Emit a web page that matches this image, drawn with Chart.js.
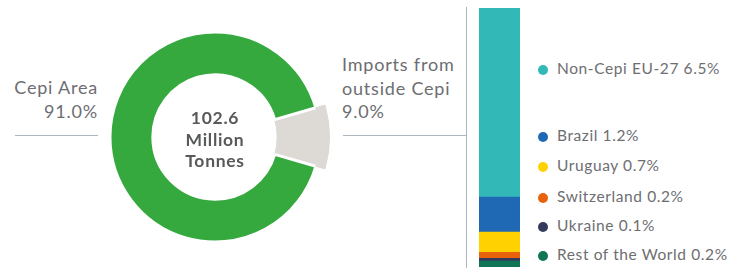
<!DOCTYPE html>
<html>
<head>
<meta charset="utf-8">
<script src="https://cdn.jsdelivr.net/npm/chart.js@4.4.0/dist/chart.umd.min.js"></script>
<style>
  body { margin: 0; background: #fff; font-family: Lato, "Open Sans", sans-serif; color: #6d6e71; }
  #wrap { position: relative; width: 733px; height: 268px; overflow: hidden; }
  .abs { position: absolute; }
  #donutBox { left: 100px; top: 22px; width: 230px; height: 230px; }
  #barBox { left: 479px; top: 8px; width: 41px; height: 259px; }
  .lbl { font-size: 18px; line-height: 23.5px; letter-spacing: 0.8px; }
  #leftLbl { left: 0; width: 98px; top: 76px; text-align: right; }
  #rightLbl { left: 342px; top: 53px; }
  #center { left: 160px; top: 107px; width: 110px; text-align: center; font-weight: bold;
            font-size: 17.5px; line-height: 21.5px; letter-spacing: 0.7px; color: #58595b; }
  .hline { height: 0; border-top: 1px solid #aab7bd; }
  .vline { width: 0; border-left: 1px solid #aab7bd; }
  .leg { left: 538px; font-size: 15.5px; line-height: 20px; letter-spacing: 0.6px; white-space: nowrap; }
  .dot { display: inline-block; width: 10px; height: 10px; border-radius: 50%; margin-right: 9px; vertical-align: -1px; }
</style>
</head>
<body>
<div id="wrap">
  <div id="donutBox" class="abs"><canvas id="donut"></canvas></div>
  <div id="barBox" class="abs"><canvas id="bar"></canvas></div>
  <div id="center" class="abs"></div>
  <div id="leftLbl" class="abs lbl"></div>
  <div id="rightLbl" class="abs lbl"></div>
  <div class="abs hline" style="left:15px;top:135px;width:83px"></div>
  <div class="abs hline" style="left:343px;top:135px;width:124px"></div>
  <div class="abs vline" style="left:466px;top:7px;height:261px"></div>
</div>
<script>
  // share of total consumption
  const shareLabels = ["Cepi Area", "Imports from\noutside Cepi"];
  const shareValues = [91.0, 9.0];
  const shareColors = ["#36a93e", "#ddd9d4"];
  const totalText = ["102.6", "Million", "Tonnes"];

  // imports breakdown (% of total)
  const importLabels = ["Non-Cepi EU-27", "Brazil", "Uruguay", "Switzerland", "Ukraine", "Rest of the World"];
  const importValues = [6.5, 1.2, 0.7, 0.2, 0.1, 0.2];
  const importColors = ["#33b8b8", "#1f69b4", "#ffd100", "#e8620c", "#343a5c", "#107456"];
  const legendTops = [58, 125, 155, 186, 215, 244];

  const pct = (v) => v.toFixed(1) + "%";

  document.getElementById("center").innerHTML = totalText.join("<br>");
  document.getElementById("leftLbl").innerHTML = shareLabels[0] + "<br>" + pct(shareValues[0]);
  document.getElementById("rightLbl").innerHTML = shareLabels[1].replace("\n", "<br>") + "<br>" + pct(shareValues[1]);

  const wrap = document.getElementById("wrap");
  importLabels.forEach((name, i) => {
    const d = document.createElement("div");
    d.className = "abs leg";
    d.style.top = legendTops[i] + "px";
    d.innerHTML = `<span class="dot" style="background:${importColors[i]}"></span>${name} ${pct(importValues[i])}`;
    wrap.appendChild(d);
  });

  // Doughnut: outer thin ring only carries the imports slice, so it sticks out
  const half = (shareValues[1] / 100) * 360 / 2;
  new Chart(document.getElementById("donut"), {
    type: "doughnut",
    data: {
      labels: [shareLabels[1], shareLabels[0]],
      datasets: [
        {
          data: [shareValues[1], shareValues[0]],
          backgroundColor: [shareColors[1], "rgba(0,0,0,0)"],
          borderColor: [shareColors[1], "rgba(0,0,0,0)"],
          borderWidth: [1, 0],
          weight: 9.5,
        },
        {
          data: [shareValues[1], shareValues[0]],
          backgroundColor: [shareColors[1], shareColors[0]],
          borderColor: [shareColors[1], "#ffffff"],
          borderWidth: [1, 3],
          weight: 43,
        },
      ],
    },
    options: {
      responsive: true,
      maintainAspectRatio: false,
      animation: false,
      rotation: 90 - half,
      cutout: "54.3%",
      layout: { padding: 0 },
      plugins: { legend: { display: false }, tooltip: { enabled: false } },
      events: [],
    },
  });

  // Stacked bar: first dataset sits at the bottom
  const order = importLabels.map((_, i) => i).reverse();
  const totalImports = importValues.reduce((a, b) => a + b, 0);
  new Chart(document.getElementById("bar"), {
    type: "bar",
    data: {
      labels: ["Imports"],
      datasets: order.map((i) => ({
        label: importLabels[i],
        data: [importValues[i]],
        backgroundColor: importColors[i],
        borderWidth: 0,
        barPercentage: 1,
        categoryPercentage: 1,
      })),
    },
    options: {
      responsive: true,
      maintainAspectRatio: false,
      animation: false,
      layout: { padding: 0 },
      scales: {
        x: { display: false, stacked: true },
        y: { display: false, stacked: true, min: 0, max: totalImports },
      },
      plugins: { legend: { display: false }, tooltip: { enabled: false } },
      events: [],
    },
  });
</script>
</body>
</html>
